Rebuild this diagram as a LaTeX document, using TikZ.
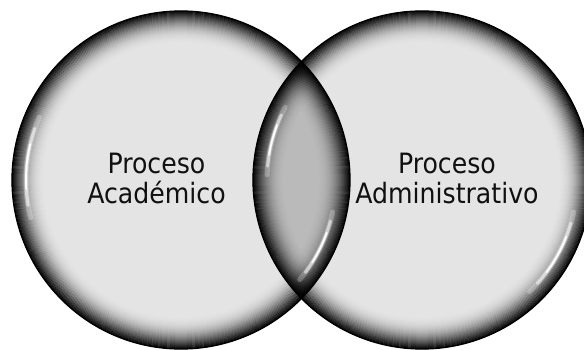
\documentclass[tikz,border=0pt]{standalone}
\usepackage{fontspec}
\setmainfont{DejaVu Sans Condensed}
\begin{document}
\begin{tikzpicture}[x=1pt,y=1pt,
  basefill/.style={fill={rgb,255:red,228;green,228;blue,228}},
  outline/.style={draw=black,line width=1.3pt},
  lbl/.style={font=\fontsize{28}{30}\selectfont,text={rgb,255:red,16;green,16;blue,16},inner sep=0pt,anchor=base},
  hl/.style={white,line cap=round}
]
\useasboundingbox (0,0) rectangle (584,350);
\def\R{169}
\coordinate (L) at (181,170);
\coordinate (Rc) at (422,170);
% rim macro
\newcommand{\myrim}[1]{%
  \foreach \d [evaluate=\d as \op using 0.95*(1-\d/34)^2.6, evaluate=\d as \rr using \R-\d-0.5] in {0,1,...,33}{
    \draw[black,line width=1.25pt,opacity=\op] (#1) circle[radius=\rr];
  }}
\newcommand{\myhl}[3]{%
  \draw[hl,line width=5pt,opacity=0.25] (#1) ++(#2:155) arc[start angle=#2,end angle=#3,radius=155];
  \pgfmathsetmacro\aa{#2+0.12*(#3-#2)}\pgfmathsetmacro\bb{#3-0.12*(#3-#2)}
  \draw[hl,line width=3pt,opacity=0.55] (#1) ++(\aa:155) arc[start angle=\aa,end angle=\bb,radius=155];
  \pgfmathsetmacro\aa{#2+0.28*(#3-#2)}\pgfmathsetmacro\bb{#3-0.28*(#3-#2)}
  \draw[hl,line width=1.8pt,opacity=0.95] (#1) ++(\aa:155) arc[start angle=\aa,end angle=\bb,radius=155];
}
% left circle
\fill[basefill] (L) circle[radius=\R];
\myrim{L}
% right circle
\fill[basefill] (Rc) circle[radius=\R];
\myrim{Rc}
% lens
\begin{scope}
  \clip (L) circle[radius=\R];
  \fill[black,opacity=0.18] (Rc) circle[radius=\R];
  \clip (Rc) circle[radius=\R];
  \myrim{L}
\end{scope}
% highlights
\myhl{L}{156}{194}
\myhl{L}{-40}{-12}
\myhl{Rc}{152}{178}
\myhl{Rc}{-46}{-12}
% outlines
\draw[outline] (L) circle[radius=\R];
\draw[outline] (Rc) circle[radius=\R];
% labels
\node[lbl] (a1) at (156.5,176) {Proceso};
\node[lbl] (a2) at (156.5,146) {Académico};
\node[lbl] (b1) at (447,176) {Proceso};
\node[lbl] (b2) at (447,146.5) {Administrativo};
\end{tikzpicture}
\end{document}
